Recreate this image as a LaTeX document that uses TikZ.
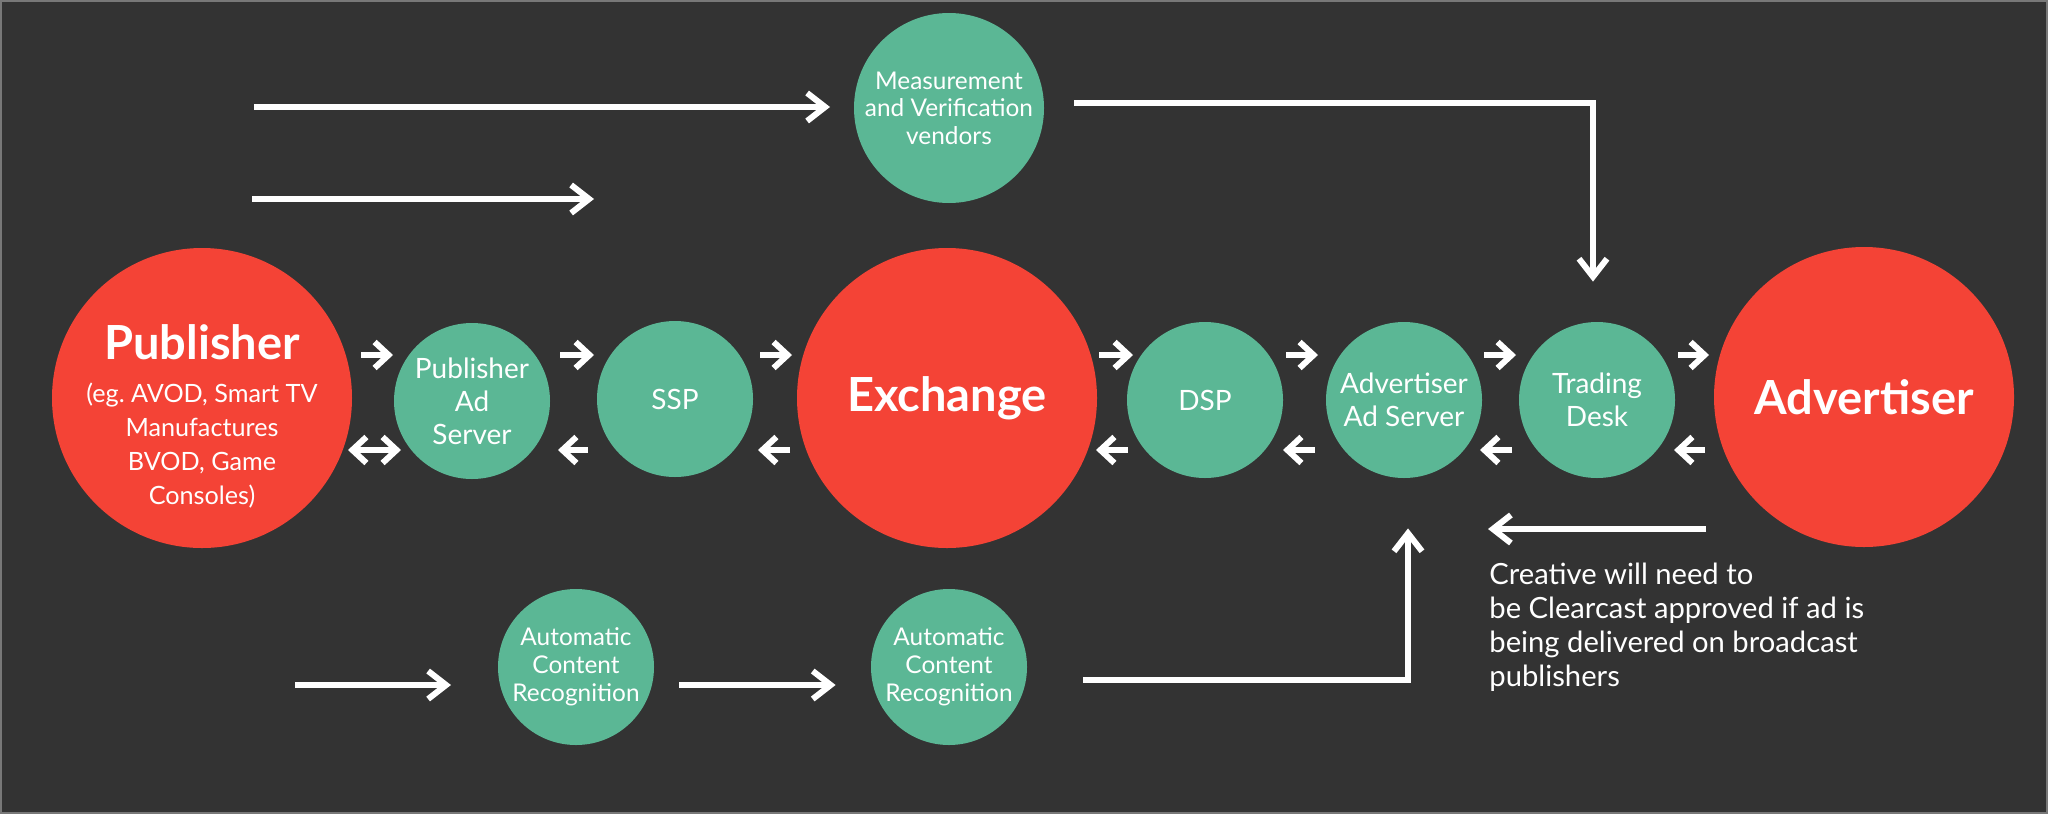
\documentclass[tikz,border=0pt]{standalone}
\usepackage{fontspec}
\setmainfont{Lato}
\usetikzlibrary{arrows.meta}
\definecolor{bg}{RGB}{51,51,51}
\definecolor{frame}{RGB}{120,120,120}
\definecolor{myred}{RGB}{244,67,54}
\definecolor{mygreen}{RGB}{91,183,149}
\begin{document}
\frenchspacing
\begin{tikzpicture}[x=0.5pt,y=-0.5pt,
  bignode/.style={circle,fill=myred,minimum size=150pt,inner sep=0pt},
  greennode/.style={circle,fill=mygreen,minimum size=78pt,inner sep=0pt,text=white,align=center,font=\fontsize{14}{16.5}\selectfont},
  midnode/.style={greennode,minimum size=95pt,font=\fontsize{12.2}{13.8}\selectfont},
  acrnode/.style={greennode,font=\fontsize{12.2}{14}\selectfont},
  bigtext/.style={text=white,font=\bfseries\fontsize{23.5}{26}\selectfont,inner sep=0pt},
  longarr/.style={draw=white,line width=3pt,-{Straight Barb[length=9pt,width=14pt]}},
  shortarr/.style={draw=white,line width=3pt,-{Straight Barb[length=7pt,width=13pt]}},
  dblarr/.style={draw=white,line width=3pt,{Straight Barb[length=7pt,width=13pt]}-{Straight Barb[length=7pt,width=13pt]}},
  caption/.style={text=white,align=left,anchor=north west,inner sep=0pt,font=\fontsize{14.6}{17}\selectfont}
]
\fill[bg] (0,0) rectangle (2048,814);
\draw[frame,line width=1pt] (1,1) rectangle (2047,813);
\useasboundingbox (0,0) rectangle (2048,814);

% main row
\node[bignode] (pub) at (202,398) {};
\node[bigtext] (pubt) at (202,342) {Publisher};
\node[text=white,align=center,inner sep=0pt,font=\fontsize{12.6}{17}\selectfont] (pubs) at (202,446) {(eg. AVOD, Smart TV\\Manufactures\\BVOD, Game\\Consoles)};
\node[greennode] (pas) at (472,401) {Publisher\\Ad\\Server};
\node[greennode] (ssp) at (675,399) {SSP};
\node[bignode] (ex) at (947,398) {};
\node[bigtext] (ext) at (947,398) {Exchange};
\node[greennode] (dsp) at (1205,400) {DSP};
\node[greennode] (aas) at (1404,400) {Advertiser\\Ad Server};
\node[greennode] (td) at (1597,400) {Trading\\Desk};
\node[bignode] (adv) at (1864,397) {};
\node[bigtext] (advt) at (1864,397) {Advertiser};

% top and bottom
\node[midnode] (meas) at (949,108) {Measurement\\and Verification\\vendors};
\node[acrnode] (acr1) at (576,667) {Automatic\\Content\\Recognition};
\node[acrnode] (acr2) at (949,667) {Automatic\\Content\\Recognition};

% free ends
\coordinate (t1s) at (254,107); \coordinate (t1e) at (830,107);
\coordinate (t2s) at (252,199); \coordinate (t2e) at (594,199);
\coordinate (b1s) at (295,685); \coordinate (b1e) at (451,685);
\coordinate (cas) at (1706,529); \coordinate (cae) at (1488,529);

\draw[longarr] (t1s) -- (t1e);
\draw[longarr] (t2s) -- (t2e);
\draw[longarr] (b1s) -- (b1e);
\draw[longarr] ([yshift=-9pt]acr1.east) ++(12.5pt,0) -- ([yshift=-9pt,xshift=-17.5pt]acr2.west);
\draw[longarr] ([shift={(15pt,2.5pt)}]meas.east) -| ([xshift=-2pt,yshift=20pt]td.north);
\draw[longarr] ([shift={(28pt,-6.5pt)}]acr2.east) -| ([xshift=2pt,yshift=-25pt]aas.south);
\draw[longarr] (cas) -- (cae);

% short arrows, upper row (rightwards)
\foreach \a/\b/\n in {361/393/1,560/594/2,760/792/3,1099/1133/4,1286/1318/5,1484/1516/6,1678/1709/7}{
  \coordinate (u\n s) at (\a,355); \coordinate (u\n e) at (\b,355);
  \draw[shortarr] (u\n s) -- (u\n e);
}
% lower row (leftwards)
\foreach \a/\b/\n in {588/558/2,790/758/3,1128/1096/4,1315/1283/5,1512/1480/6,1705/1674/7}{
  \coordinate (l\n s) at (\a,450); \coordinate (l\n e) at (\b,450);
  \draw[shortarr] (l\n s) -- (l\n e);
}
\coordinate (d1s) at (348,450); \coordinate (d1e) at (401,450);
\draw[dblarr] (d1s) -- (d1e);

\node[caption] (cap) at (1489,563) {Creative will need to\\be Clearcast approved if ad is\\being delivered on broadcast\\publishers};
\end{tikzpicture}
\end{document}
